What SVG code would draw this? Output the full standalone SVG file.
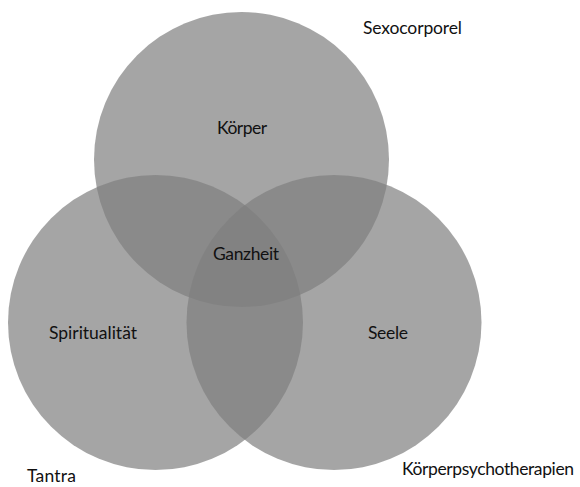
<svg xmlns="http://www.w3.org/2000/svg" width="580" height="487" viewBox="0 0 580 487">
  <style>
    .c { fill: #7f7f7f; fill-opacity: 0.7; stroke: none; }
    .t { font-family: Lato, "Liberation Sans", sans-serif; font-size: 17.5px; fill: #111; }
  </style>
  <rect width="580" height="487" fill="#fff"/>
  <g id="koerper">
    <circle class="c" cx="241.5" cy="159.5" r="147.5"/>
  </g>
  <g id="spiritualitaet">
    <circle class="c" cx="155.5" cy="322.5" r="147.5"/>
  </g>
  <g id="seele">
    <circle class="c" cx="334" cy="322.5" r="147.5"/>
  </g>
  <g id="labels">
    <text class="t" x="217" y="134" textLength="50">Körper</text>
    <text class="t" x="213" y="260" textLength="66">Ganzheit</text>
    <text class="t" x="49" y="339" textLength="88">Spiritualität</text>
    <text class="t" x="368" y="339" textLength="40">Seele</text>
    <text class="t" x="363" y="34" textLength="99">Sexocorporel</text>
    <text class="t" x="27" y="482" textLength="49">Tantra</text>
    <text class="t" x="402" y="475" textLength="172">Körperpsychotherapien</text>
  </g>
</svg>
